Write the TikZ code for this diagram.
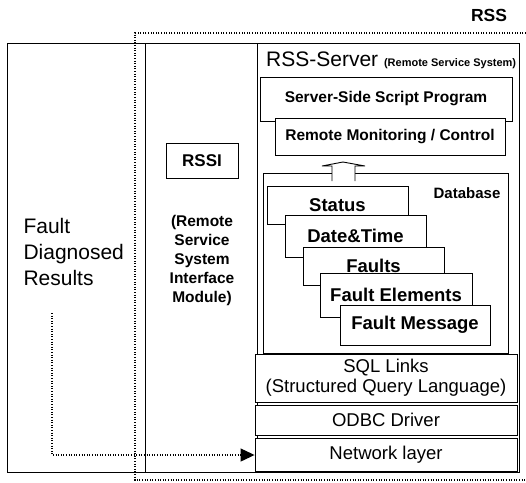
\documentclass[tikz,border=0pt]{standalone}
\usepackage{fontspec}
\setmainfont{Liberation Sans}
\usepackage{tikz}
\usetikzlibrary{arrows.meta}
\tikzset{ frame_line/.style = {line width=0.9pt} }
\tikzset{ dot_line/.style = {line width=1.2pt, dash pattern=on 1pt off 1.6pt} }
\tikzset{ prog_box/.style = {rectangle, draw, line width=0.9pt, fill=white, inner sep=0pt, font=\fontsize{15.5}{18}\selectfont\bfseries} }
\tikzset{ table_box/.style = {rectangle, draw, line width=0.9pt, fill=white, inner sep=0pt, font=\fontsize{18.5}{20}\selectfont\bfseries} }
\tikzset{ layer_box/.style = {rectangle, draw, line width=0.9pt, fill=white, inner sep=0pt, align=center, minimum width=262pt, font=\fontsize{18.5}{20}\selectfont} }

\begin{document}
\begin{tikzpicture}[x=1pt,y=-1pt]
            \useasboundingbox (0,0) rectangle (526,482);
            % frames
            \draw[frame_line] (7,43) rectangle (519,472);
            \draw[frame_line] (145,43) -- (145,472);
            \draw[frame_line] (257,43) -- (257,472);
            \node[font=\fontsize{17.5}{20}\selectfont\bfseries] (rss) at (489,15) {RSS};
                    % left part
                    \node[anchor=west, align=left, font=\fontsize{21}{26}\selectfont] (fdr) at (20,252) {Fault\\Diagnosed\\Results};
                    \node[rectangle, draw, line width=0.9pt, minimum width=72pt, minimum height=35pt, font=\fontsize{17}{20}\selectfont\bfseries] (rssi) at (202,160.5) {RSSI};
                    \node[align=center, font=\fontsize{15.5}{19}\selectfont\bfseries] (rssi_desc) at (202,260) {(Remote\\Service\\System\\Interface\\Module)};
                    % server
                    \node[anchor=west, inner sep=0pt] (srv_title) at (266,60) {\fontsize{21}{22}\selectfont RSS-Server \fontsize{11}{12}\selectfont\bfseries (Remote Service System)};
                    \node[style=prog_box, minimum width=252pt, minimum height=44pt] (ssp) at (386,99) {Server-Side Script Program};
                    \node[style=prog_box, minimum width=230pt, minimum height=37pt] (rmc) at (390,136.5) {Remote Monitoring / Control};
                    \node[rectangle, draw, line width=0.9pt, minimum width=245pt, minimum height=180pt] (db) at (385.5,263) {};
                    \draw[frame_line, fill=white] (332,181) -- (332,166) -- (322,166) -- (343,162) -- (365,166) -- (355,166) -- (355,181);
                    \node[font=\fontsize{15}{18}\selectfont\bfseries] (db_lbl) at (467,193) {Database};
                    \node[style=table_box, minimum width=141pt, minimum height=38pt] (status) at (337.5,205) {Status};
                    \node[style=table_box, minimum width=141pt, minimum height=42pt] (datetime) at (355.5,236) {Date\&Time};
                    \node[style=table_box, minimum width=141pt, minimum height=38pt] (faults) at (373.5,266) {Faults};
                    \node[style=table_box, minimum width=152pt, minimum height=44pt] (felem) at (396,295) {Fault Elements};
                    \node[style=table_box, minimum width=150pt, minimum height=40pt] (fmsg) at (415,325) {Fault Message};
                    \node[style=layer_box, minimum height=48pt] (sql) at (386,378) {SQL Links\\(Structured Query Language)};
                    \node[style=layer_box, minimum height=30pt] (odbc) at (386,420) {ODBC Driver};
                    \node[style=layer_box, minimum height=33pt] (net) at (386,455) {Network layer};
            % RSS border and result path
            \draw[dot_line] (526,33) -- (135,33) -- (135,480) -- (526,480);
            \coordinate (res_start) at (52,313);
            \draw[dot_line, -{Triangle[length=14pt,width=13pt]}] (res_start) |- (net.west);
            \end{tikzpicture}
\end{document}
